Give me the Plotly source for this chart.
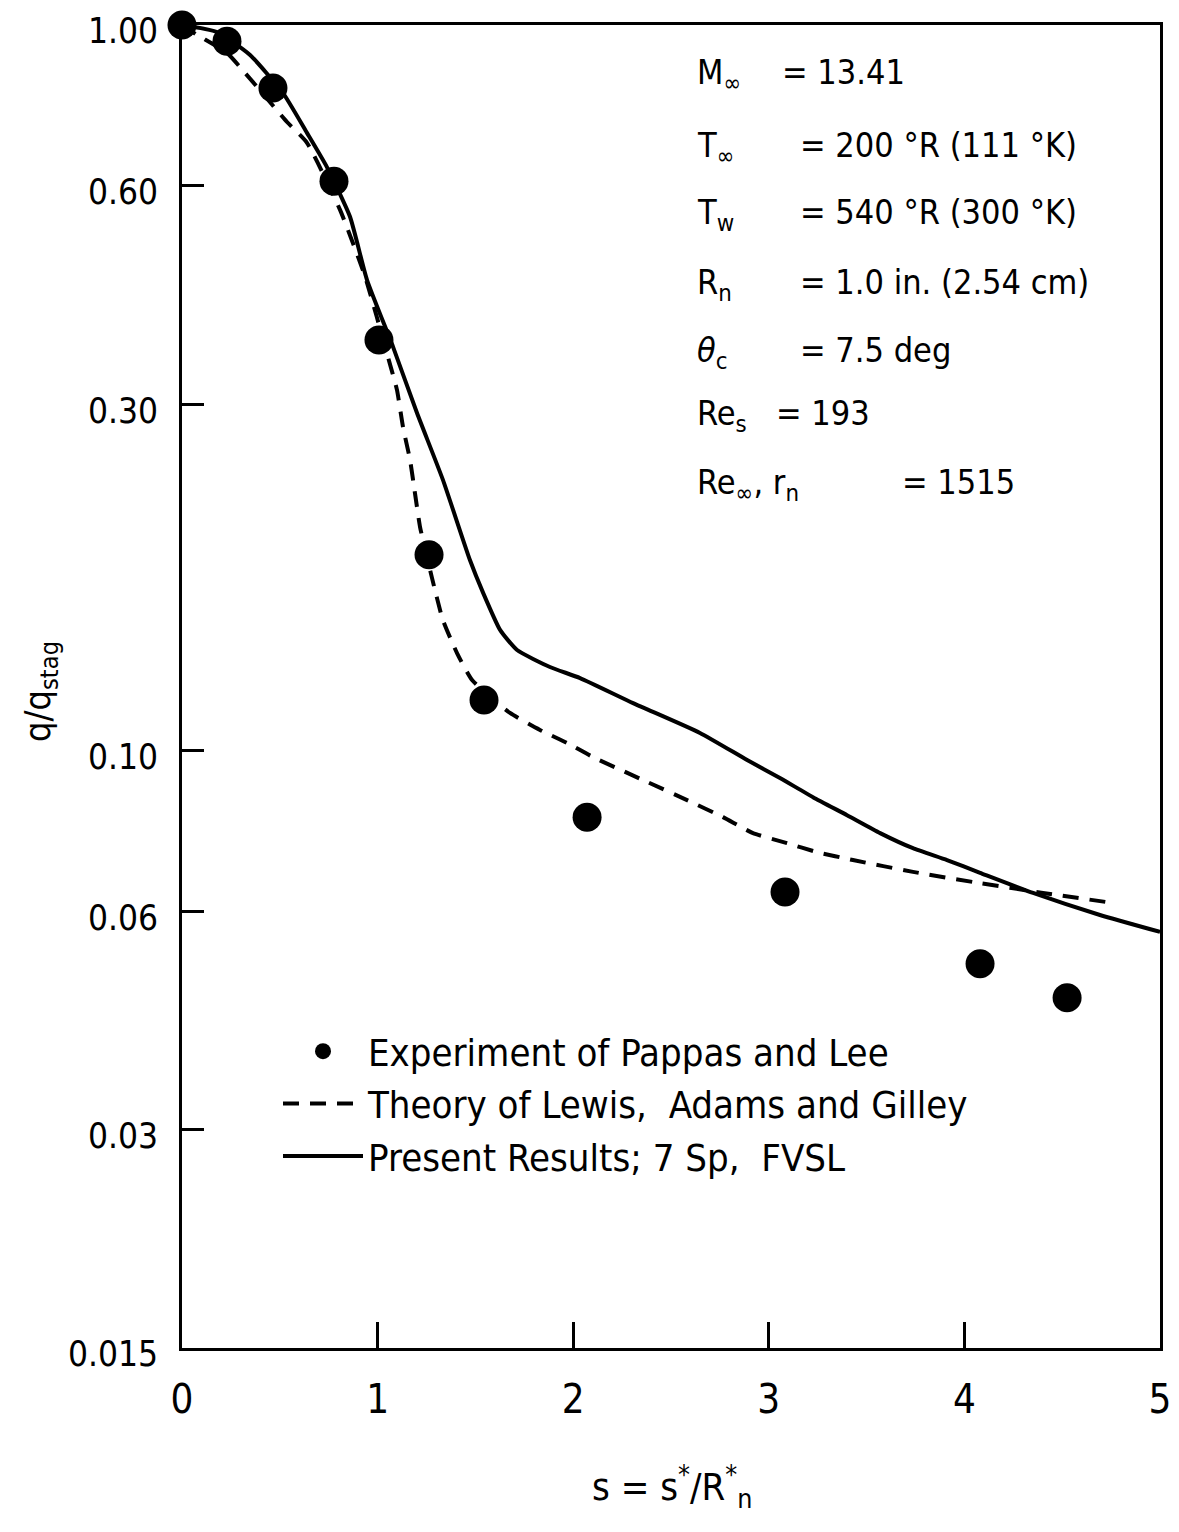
import plotly.graph_objects as go

# ---- data ----
exp_s = [0.0, 0.23, 0.465, 0.777, 1.007, 1.263, 1.544, 2.071, 3.083, 4.08, 4.525]
exp_q = [1.0, 0.950, 0.819, 0.609, 0.368, 0.186, 0.1173, 0.0809, 0.0638, 0.0508, 0.0456]

theory_s = [0.0, 0.077, 0.23, 0.332, 0.537, 0.639, 0.808, 0.936, 1.053, 1.099, 1.13, 1.166,
            1.191, 1.217, 1.278, 1.334, 1.406, 1.483, 1.677, 1.83, 1.968, 2.101, 2.357,
            2.582, 2.766, 2.919, 3.093, 3.246, 3.43, 3.737, 4.08, 4.402, 4.76]
theory_q = [1.0, 0.969, 0.915, 0.853, 0.735, 0.688, 0.556, 0.45, 0.3485, 0.314, 0.279, 0.2513,
            0.2263, 0.2032, 0.1729, 0.1512, 0.1362, 0.125, 0.1126, 0.1067, 0.1024, 0.0979, 0.0910,
            0.0854, 0.0809, 0.0769, 0.0745, 0.0724, 0.0706, 0.068, 0.0656, 0.0636, 0.0616]

present_s = [0.0, 0.179, 0.348, 0.516, 0.639, 0.741, 0.859, 0.946, 1.079, 1.201, 1.334, 1.472,
             1.539, 1.626, 1.713, 1.881, 2.035, 2.306, 2.648, 2.889, 3.057, 3.226, 3.4, 3.569,
             3.737, 3.911, 4.08, 4.351, 4.693, 5.0]
present_q = [1.0, 0.978, 0.909, 0.806, 0.710, 0.637, 0.544, 0.445, 0.360, 0.292, 0.236, 0.183,
             0.165, 0.1466, 0.1375, 0.1303, 0.1258, 0.1162, 0.1057, 0.0970, 0.0916, 0.0862, 0.0814,
             0.0769, 0.0733, 0.0706, 0.0678, 0.0636, 0.0593, 0.0562]

x_ticks = [0, 1, 2, 3, 4, 5]
y_ticks = [0.015, 0.03, 0.06, 0.10, 0.30, 0.60, 1.00]
y_tick_text = ["0.015", "0.03", "0.06", "0.10", "0.30", "0.60", "1.00"]

series_names = ["Experiment of Pappas and Lee",
                "Theory of Lewis,  Adams and Gilley",
                "Present Results; 7 Sp,  FVSL"]

param_labels = ["M<sub>∞</sub>", "T<sub>∞</sub>", "T<sub>w</sub>", "R<sub>n</sub>",
                "<i>θ</i><sub>c</sub>", "Re<sub>s</sub>", "Re<sub>∞</sub>, r<sub>n</sub>"]
param_values = ["= 13.41", "= 200 °R (111 °K)", "= 540 °R (300 °K)", "= 1.0 in. (2.54 cm)",
                "= 7.5 deg", "= 193", "= 1515"]

FONT = "DejaVu Sans Condensed, Liberation Sans Narrow, sans-serif"

# page body has an 8px margin; size the figure so it fits the window exactly
OFF = 8
W, H = 1179 - 2 * OFF, 1532 - 2 * OFF
PLOT_L, PLOT_R, PLOT_T, PLOT_B = 182, 1160, 25, 1348   # plot box in page pixels
L, T = PLOT_L - OFF, PLOT_T - OFF
R = W - (PLOT_R - OFF)
B = H - (PLOT_B - OFF)
pw, ph = PLOT_R - PLOT_L, PLOT_B - PLOT_T

def px(xp):
    return (xp - PLOT_L) / pw

def py(yp):
    return (PLOT_B - yp) / ph

fig = go.Figure()
fig.add_trace(go.Scatter(x=exp_s, y=exp_q, mode="markers", name=series_names[0],
                         marker=dict(symbol="circle", size=29, color="black"),
                         cliponaxis=False))
fig.add_trace(go.Scatter(x=theory_s, y=theory_q, mode="lines", name=series_names[1],
                         line=dict(color="black", width=4, dash="16px,11px", shape="spline",
                                   smoothing=0.5)))
fig.add_trace(go.Scatter(x=present_s, y=present_q, mode="lines", name=series_names[2],
                         line=dict(color="black", width=4, shape="spline", smoothing=0.5)))

annotations = []
label_x = 695
value_x = [780, 798, 798, 798, 798, 774, 900]
line_top = [50, 123, 190, 260, 328, 391, 460]
for lab, val, vx, yt in zip(param_labels, param_values, value_x, line_top):
    annotations.append(dict(x=px(label_x), y=py(yt), xref="paper", yref="paper",
                            text=lab, showarrow=False, xanchor="left", yanchor="top",
                            font=dict(family=FONT, size=34, color="black")))
    annotations.append(dict(x=px(vx), y=py(yt), xref="paper", yref="paper",
                            text=val, showarrow=False, xanchor="left", yanchor="top",
                            font=dict(family=FONT, size=34, color="black")))

annotations.append(dict(x=px(40), y=py(692), xref="paper", yref="paper",
                        text="q/q<sub>stag</sub>", textangle=-90, showarrow=False,
                        xanchor="center", yanchor="middle",
                        font=dict(family=FONT, size=36, color="black")))
annotations.append(dict(x=px(672), y=py(1486), xref="paper", yref="paper",
                        text="s = s<sup>*</sup>/R<sup>*</sup><sub>n</sub>", showarrow=False,
                        xanchor="center", yanchor="middle",
                        font=dict(family=FONT, size=38, color="black")))

fig.update_layout(
    width=W, height=H,
    margin=dict(l=L, r=R, t=T, b=B, autoexpand=False),
    paper_bgcolor="white", plot_bgcolor="white",
    font=dict(family=FONT, color="black"),
    showlegend=True,
    legend=dict(x=px(278), y=py(1020), xanchor="left", yanchor="top",
                font=dict(family=FONT, size=38, color="black"),
                bgcolor="rgba(0,0,0,0)", itemwidth=80, tracegroupgap=0),
    annotations=annotations,
)
fig.update_xaxes(range=[0, 5], tickmode="array", tickvals=x_ticks,
                 ticktext=[str(v) for v in x_ticks],
                 ticks="inside", ticklen=26, tickwidth=3, tickcolor="black",
                 showline=True, linewidth=3, linecolor="black", mirror=True,
                 showgrid=False, zeroline=False, automargin=False,
                 ticklabeloverflow="allow",
                 tickfont=dict(family=FONT, size=40, color="black"),
                 ticklabelstandoff=14)
fig.update_yaxes(type="log", range=[-1.8239, 0], tickmode="array", tickvals=y_ticks,
                 ticktext=y_tick_text,
                 ticks="inside", ticklen=22, tickwidth=3, tickcolor="black",
                 showline=True, linewidth=3, linecolor="black", mirror=True,
                 showgrid=False, zeroline=False, automargin=False,
                 ticklabeloverflow="allow", ticklabelshift=6,
                 tickfont=dict(family=FONT, size=35, color="black"),
                 ticklabelstandoff=14)

fig.write_html("out.html")
